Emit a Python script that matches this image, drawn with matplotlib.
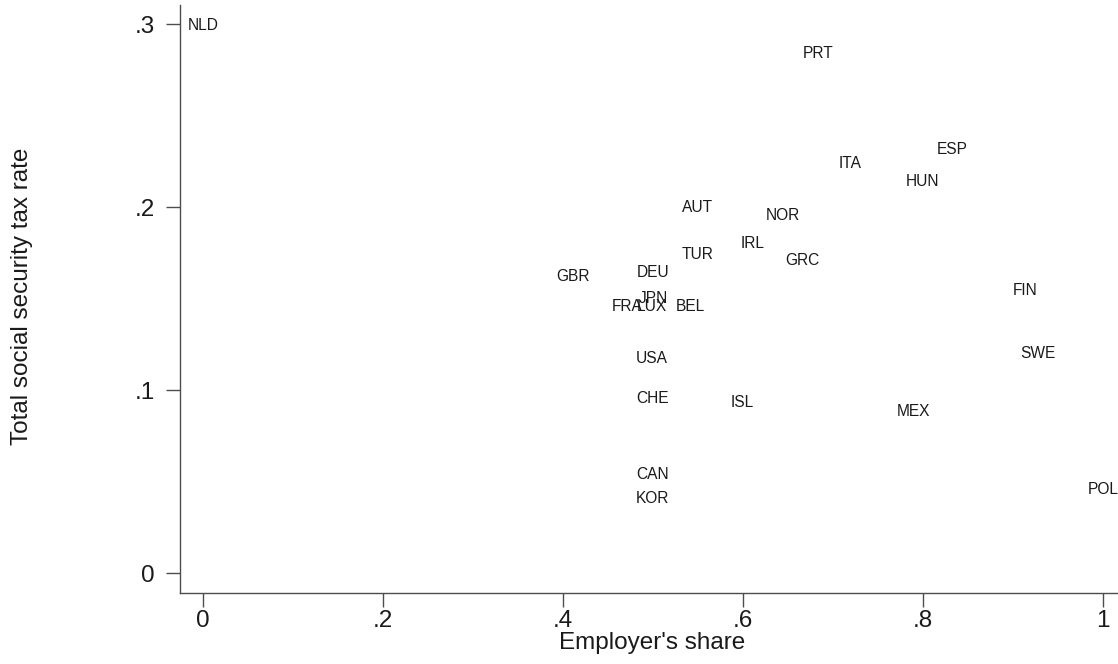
import matplotlib
matplotlib.use("Agg")
import matplotlib.pyplot as plt

# country codes with employer share and total social security tax rate
countries = ["NLD", "PRT", "ESP", "ITA", "HUN", "AUT", "NOR", "IRL", "TUR", "GRC",
             "GBR", "DEU", "FIN", "JPN", "FRA", "LUX", "BEL", "USA", "SWE", "CHE",
             "ISL", "MEX", "CAN", "KOR", "POL"]
employer_share = [0.0, 0.683, 0.833, 0.719, 0.80, 0.55, 0.644, 0.611, 0.55, 0.666,
                  0.411, 0.50, 0.914, 0.501, 0.471, 0.499, 0.541, 0.499, 0.928, 0.499,
                  0.599, 0.79, 0.499, 0.499, 1.0]
tax_rate = [0.299, 0.284, 0.2317, 0.224, 0.2137, 0.1995, 0.1956, 0.1803, 0.1738, 0.171,
            0.162, 0.164, 0.1546, 0.150, 0.1454, 0.1454, 0.1454, 0.1175, 0.1202, 0.0956,
            0.093, 0.0885, 0.0536, 0.041, 0.0459]

x_ticks = [0, 0.2, 0.4, 0.6, 0.8, 1.0]
x_tick_labels = ["0", ".2", ".4", ".6", ".8", "1"]
y_ticks = [0, 0.1, 0.2, 0.3]
y_tick_labels = ["0", ".1", ".2", ".3"]

plt.rcParams["font.family"] = ["Liberation Sans", "DejaVu Sans"]
text_color = "#1a1a1a"
axis_color = "#4d4d4d"

fig = plt.figure(figsize=(11.18, 6.64), dpi=100)
ax = fig.add_axes([180 / 1118, 71 / 664, 938 / 1118, 588 / 664])

for name, x, y in zip(countries, employer_share, tax_rate):
    ax.text(x, y, name, ha="center", va="center", fontsize=11.2,
            color=text_color, clip_on=False)

ax.set_xlim(-0.0256, 1.0167)
ax.set_ylim(-0.0109, 0.3104)

ax.set_xticks(x_ticks)
ax.set_xticklabels(x_tick_labels)
ax.set_yticks(y_ticks)
ax.set_yticklabels(y_tick_labels)
ax.tick_params(axis="both", labelsize=17.5, labelcolor=text_color,
               color=axis_color, length=10, width=1)
ax.tick_params(axis="y", pad=8)
ax.tick_params(axis="x", pad=2)

for side in ["top", "right"]:
    ax.spines[side].set_visible(False)
for side in ["left", "bottom"]:
    ax.spines[side].set_color(axis_color)
    ax.spines[side].set_linewidth(1)

ax.set_xlabel("Employer's share", fontsize=17.5, color=text_color)
ax.xaxis.set_label_coords((652 - 180) / 938, -(643 - 593) / 588)
ax.xaxis.label.set_va("center")
ax.set_ylabel("Total social security tax rate", fontsize=17.5, color=text_color)
ax.yaxis.set_label_coords(-(180 - 22) / 938, (593 - 296) / 588)
ax.yaxis.label.set_va("center")

plt.savefig("out.png", dpi=100)
